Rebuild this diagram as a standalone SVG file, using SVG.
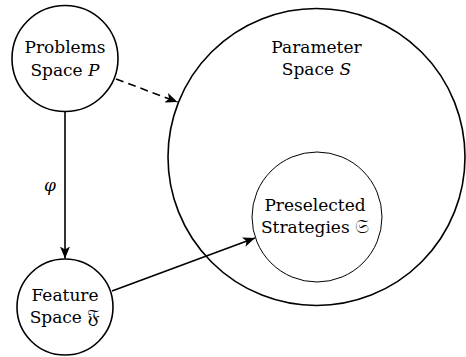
<svg xmlns="http://www.w3.org/2000/svg" width="466" height="357" viewBox="0 0 466 357">
<style>
text{font-family:'DejaVu Serif',serif;font-size:17px;fill:#000;text-anchor:middle}
.it{font-style:italic}
.fr{font-size:20px}
.node{fill:#fff;stroke:#000;stroke-width:1.6}
.thin{fill:none;stroke:#000;stroke-width:1}
.edge{fill:none;stroke:#000;stroke-width:1.6}
</style>
<defs>
<marker id="ah" viewBox="0 0 12 10" refX="12" refY="5" markerWidth="12" markerHeight="10" markerUnits="userSpaceOnUse" orient="auto">
<path d="M0,0 L12,5 L0,10 L3,5 Z" fill="#000"/>
</marker>
</defs>
<g id="param">
<circle class="node" cx="316.5" cy="157" r="148.5"/>
<text x="316.5" y="53">Parameter</text>
<text x="316.5" y="75">Space <tspan class="it">S</tspan></text>
</g>
<g id="presel">
<circle class="thin" cx="317" cy="217" r="65"/>
<text x="315" y="211">Preselected</text>
<text x="315" y="233">Strategies <tspan class="fr">𝔖</tspan></text>
</g>
<g id="problems">
<circle class="node" cx="65" cy="58.5" r="53"/>
<text x="65" y="53">Problems</text>
<text x="65" y="76">Space <tspan class="it">P</tspan></text>
</g>
<g id="feature">
<circle class="node" cx="65" cy="307" r="48"/>
<text x="65" y="301">Feature</text>
<text x="65" y="323">Space <tspan class="fr">𝔉</tspan></text>
</g>
<g id="connectors">
<line class="edge" x1="116" y1="79" x2="177.5" y2="102" stroke-dasharray="8,5" marker-end="url(#ah)"/>
<line class="edge" x1="65" y1="112" x2="65" y2="258.5" marker-end="url(#ah)"/>
<line class="edge" x1="112" y1="291" x2="255" y2="238" marker-end="url(#ah)"/>
<text class="it" x="50" y="191">φ</text>
</g>
</svg>
